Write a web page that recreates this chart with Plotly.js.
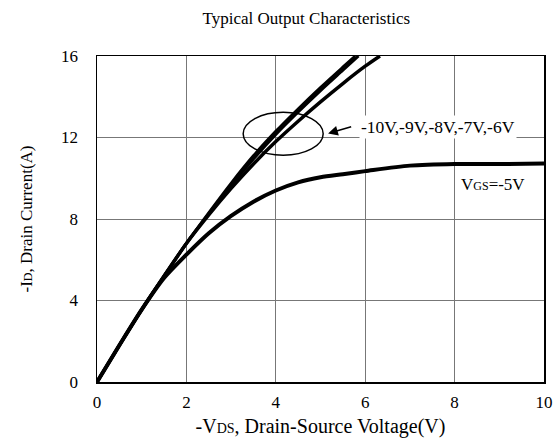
<!DOCTYPE html>
<html>
<head>
<meta charset="utf-8">
<script src="https://cdn.plot.ly/plotly-3.0.1.min.js"></script>
<style>html,body{margin:0;padding:0;background:#fff;}#chart{width:554px;height:444px;}</style>
</head>
<body>
<div id="chart"></div>
<script>
// -VDS (V) and -ID (A)
const vUpper = [0, 0.5, 1, 1.5, 2, 2.5, 3, 3.5, 4, 4.5, 5, 5.5, 5.78];
const iUpper = [0, 1.8, 3.55, 5.2, 6.8, 8.3, 9.75, 11.1, 12.3, 13.4, 14.45, 15.45, 16];
const vUpper2 = [0, 0.5, 1, 1.5, 2, 2.5, 3, 3.5, 4, 4.5, 5, 5.5, 5.85];
const iUpper2 = [0, 1.8, 3.55, 5.2, 6.8, 8.25, 9.65, 10.95, 12.15, 13.25, 14.3, 15.3, 16];
const vGs6 = [0, 0.5, 1, 1.5, 2, 2.5, 3, 3.5, 4, 4.5, 5, 5.5, 6, 6.33];
const iGs6 = [0, 1.8, 3.55, 5.2, 6.8, 8.2, 9.5, 10.7, 11.8, 12.8, 13.75, 14.65, 15.5, 16];
const vGs5 = [0, 0.5, 1, 1.5, 2, 2.5, 3, 3.5, 4, 4.5, 5, 5.5, 6, 7, 8, 9, 10];
const iGs5 = [0, 1.8, 3.55, 5.1, 6.25, 7.3, 8.15, 8.85, 9.4, 9.8, 10.05, 10.2, 10.35, 10.62, 10.7, 10.7, 10.72];
const xTicks = [0, 2, 4, 6, 8, 10];
const yTicks = [0, 4, 8, 12, 16];
const groupLabel = "-10V,-9V,-8V,-7V,-6V";
const gs5Label = "V<span style='font-size:12px'>GS</span>=-5V";

const font = "Liberation Serif, Times New Roman, serif";
const lineStyle = (w) => ({color: "#000", width: w, shape: "spline", smoothing: 0.8});

const traces = [
  {x: vUpper, y: iUpper, mode: "lines", line: lineStyle(3), name: "-10V"},
  {x: vUpper2, y: iUpper2, mode: "lines", line: lineStyle(3), name: "-8V"},
  {x: vGs6, y: iGs6, mode: "lines", line: lineStyle(3.5), name: "-6V"},
  {x: vGs5, y: iGs5, mode: "lines", line: lineStyle(4), name: "-5V"}
];

const layout = {
  width: 554, height: 444,
  margin: {l: 97, r: 10, t: 56, b: 62},
  paper_bgcolor: "#fff", plot_bgcolor: "#fff",
  showlegend: false,
  font: {family: font, color: "#000", size: 16},
  title: {text: "Typical Output Characteristics", font: {family: font, size: 17, color: "#000"},
          x: 0.553, xref: "container", xanchor: "center", y: 0.96, yref: "container", yanchor: "middle"},
  xaxis: {
    range: [0, 10], tickvals: xTicks, ticktext: xTicks.map(String),
    showgrid: true, gridcolor: "#777", gridwidth: 1,
    showline: true, linecolor: "#000", linewidth: 1.5, mirror: true,
    zeroline: false, ticks: "", ticklabelstandoff: 4,
    tickfont: {family: font, size: 17, color: "#000"},
    title: {text: "-V<span style='font-size:14px'>DS</span>, Drain-Source Voltage(V)", font: {family: font, size: 20, color: "#000"}, standoff: 8}
  },
  yaxis: {
    range: [0, 16], tickvals: yTicks, ticktext: yTicks.map(String),
    showgrid: true, gridcolor: "#777", gridwidth: 1,
    showline: true, linecolor: "#000", linewidth: 1.5, mirror: true,
    zeroline: false, ticks: "", ticklabelstandoff: 14,
    tickfont: {family: font, size: 17, color: "#000"},
    title: {text: "-I<span style='font-size:12px'>D</span>, Drain Current(A)", font: {family: font, size: 17, color: "#000"}, standoff: 24}
  },
  shapes: [
    {type: "circle", xref: "x", yref: "y", x0: 3.27, x1: 5.06, y0: 11.13, y1: 13.24,
     line: {color: "#000", width: 1.5}}
  ],
  annotations: [
    {x: 5.17, y: 12.2, ax: 5.72, ay: 12.55, xref: "x", yref: "y", axref: "x", ayref: "y",
     showarrow: true, arrowhead: 2, arrowsize: 1.3, arrowwidth: 1.5, arrowcolor: "#000", text: ""},
    {x: 5.86, y: 12.5, xref: "x", yref: "y", xanchor: "left", yanchor: "middle", showarrow: false,
     text: groupLabel, bgcolor: "#fff", font: {family: font, size: 17.5, color: "#000"}},
    {x: 8.1, y: 9.7, xref: "x", yref: "y", xanchor: "left", yanchor: "middle", showarrow: false,
     text: gs5Label, font: {family: font, size: 17, color: "#000"}}
  ]
};

Plotly.newPlot("chart", traces, layout, {displayModeBar: false, staticPlot: true});
</script>
</body>
</html>
